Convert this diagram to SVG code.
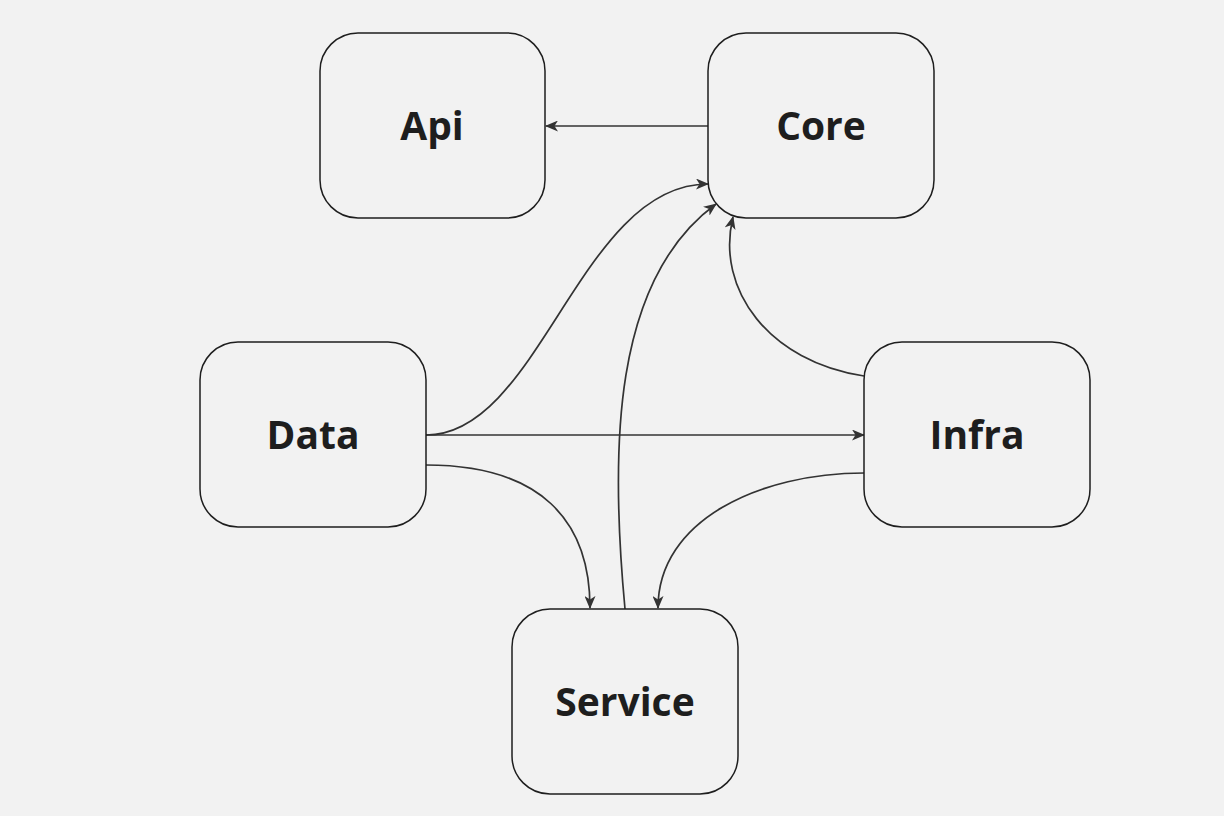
<svg xmlns="http://www.w3.org/2000/svg" width="1224" height="816" viewBox="0 0 1224 816">
<style>
.node rect{fill:#f2f2f2;stroke:#1e1e1e;stroke-width:1.5}
.node text{font-family:"Open Sans","Noto Sans",sans-serif;font-weight:700;font-size:39px;fill:#1e1e1e;text-anchor:middle;dominant-baseline:central}
#edges path{fill:none;stroke:#333;stroke-width:1.7;marker-end:url(#arr)}
</style>
<defs>
<marker id="arr" viewBox="0 0 13 11" refX="12" refY="5.5" markerWidth="13" markerHeight="11" markerUnits="userSpaceOnUse" orient="auto">
<path d="M0,0 L13,5.5 L0,11 L3.5,5.5 Z" fill="#333"/>
</marker>
</defs>
<rect width="1224" height="816" fill="#f2f2f2"/>
<g id="edges">
<path d="M708,126 L546,126"/>
<path d="M426,435 C540,435 580,184 708,184"/>
<path d="M426,435 L864,435"/>
<path d="M426,465 C540,465 590,520 590,608"/>
<path d="M864,473 C760,473 658,520 658,608"/>
<path d="M625,609 C610,450 612,280 716,204"/>
<path d="M864,376 C770,362 715,290 733,217"/>
</g>
<g id="api" class="node"><rect x="320" y="33" width="225" height="185" rx="38"/><text x="432" y="124">Api</text></g>
<g id="core" class="node"><rect x="708" y="33" width="226" height="185" rx="38"/><text x="821" y="124">Core</text></g>
<g id="data" class="node"><rect x="200" y="342" width="226" height="185" rx="38"/><text x="313" y="433">Data</text></g>
<g id="infra" class="node"><rect x="864" y="342" width="226" height="185" rx="38"/><text x="977" y="433">Infra</text></g>
<g id="service" class="node"><rect x="512" y="609" width="226" height="185" rx="38"/><text x="625" y="700">Service</text></g>
</svg>
